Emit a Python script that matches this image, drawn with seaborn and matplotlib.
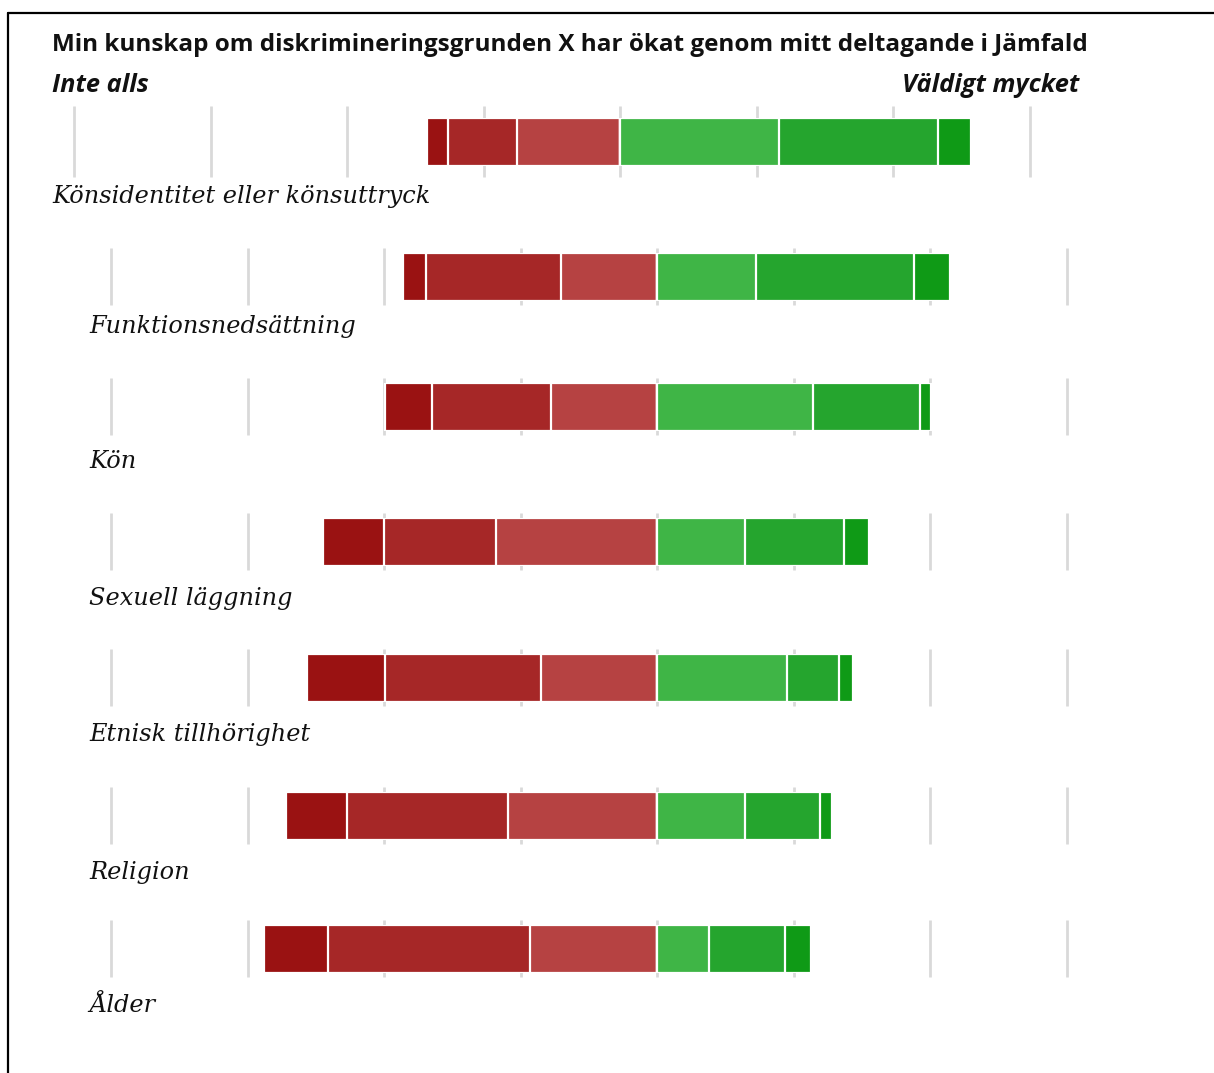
import matplotlib
matplotlib.use("Agg")
import matplotlib.pyplot as plt
import seaborn as sns
import pandas as pd
from matplotlib.lines import Line2D

sns.set_theme(style="white")
plt.rcParams['font.family'] = ['DejaVu Sans']

# ---------------- data (percent of answers per level) ----------------
categories = ["Könsidentitet eller könsuttryck", "Funktionsnedsättning", "Kön",
              "Sexuell läggning", "Etnisk tillhörighet", "Religion", "Ålder"]
# levels 1..6 ("Inte alls" -> "Väldigt mycket")
level1 = [3.8, 4.2, 8.6, 11.2, 14.2, 11.3, 11.6]
level2 = [12.7, 24.7, 21.7, 20.6, 28.6, 29.4, 37.1]
level3 = [18.8, 17.6, 19.5, 29.4, 21.3, 27.3, 23.2]
level4 = [29.2, 18.1, 28.6, 16.2, 23.9, 16.2, 9.6]
level5 = [29.1, 29.0, 19.5, 18.0, 9.5, 13.6, 13.9]
level6 = [6.0, 6.5, 2.1, 4.6, 2.5, 2.2, 4.7]
grid_ticks = [-100, -75, -50, -25, 0, 25, 50, 75]

title = "Min kunskap om diskrimineringsgrunden X har ökat genom mitt deltagande i Jämfald"
left_label = "Inte alls"
right_label = "Väldigt mycket"

reds = ["#9a1212", "#a62727", "#b64242"]
greens = ["#3fb546", "#25a52e", "#0f9a16"]

# ---------------- layout (pixels) ----------------
W, H = 1214, 1073
fig = plt.figure(figsize=(W / 100, H / 100), dpi=100)
px_per_pct = 5.46
centers = [620, 657, 657, 657, 657, 657, 657]
bar_tops = [118, 253, 383, 518, 654, 792, 925]
bar_h = 48
grid_ext = [(12, 11), (5, 4), (5, 4), (5, 4), (5, 4), (5, 4), (5, 4)]
label_x = [52, 89, 89, 89, 89, 89, 89]
label_y = [197, 327, 462, 598, 735, 873, 1005]

def fx(p):
    return p / W

def fy(p):
    return 1 - p / H

for i, cat in enumerate(categories):
    top = bar_tops[i]
    ax = fig.add_axes([0, fy(top + bar_h), 1, bar_h / H])
    c = centers[i]
    ax.set_xlim((0 - c) / px_per_pct, (W - c) / px_per_pct)

    l1, l2, l3 = level1[i], level2[i], level3[i]
    r1, r2, r3 = level4[i], level5[i], level6[i]
    names = ["L_out", "L_mid", "L_in", "R_out", "R_mid", "R_in"]
    vals = [-(l1 + l2 + l3), -(l2 + l3), -l3, r1 + r2 + r3, r1 + r2, r1]
    cols = [reds[0], reds[1], reds[2], greens[2], greens[1], greens[0]]
    df = pd.DataFrame({"row": [cat] * 6, "value": vals, "seg": names})
    sns.barplot(data=df, x="value", y="row", hue="seg", hue_order=names,
                palette=dict(zip(names, cols)), dodge=False, width=1.0,
                orient="h", legend=False, edgecolor="white", linewidth=1.6,
                saturation=1, ax=ax, zorder=3)
    ax.set_ylim(0.5, -0.5)
    up, dn = grid_ext[i]
    ax.vlines(grid_ticks, -dn / bar_h, 1 + up / bar_h,
              transform=ax.get_xaxis_transform(), colors="#d9d9d9",
              linewidth=2, clip_on=False, zorder=0)
    ax.set_axis_off()

    fig.text(fx(label_x[i]), fy(label_y[i]), cat, ha="left", va="center",
             fontsize=17.3, fontstyle="italic", family="DejaVu Serif",
             color="#111111")

fig.text(fx(52), fy(45), title, ha="left", va="center", fontsize=17.5,
         fontweight="bold", family="Open Sans", color="#111111")
fig.text(fx(52), fy(86), left_label, ha="left", va="center", fontsize=18.3,
         fontweight="bold", fontstyle="italic", family="Open Sans", color="#111111")
fig.text(fx(1079), fy(86), right_label, ha="right", va="center", fontsize=18.3,
         fontweight="bold", fontstyle="italic", family="Open Sans", color="#111111")

# frame lines (top and left)
fig.add_artist(Line2D([fx(8), 1], [fy(13), fy(13)], color="black", linewidth=1.6,
                      transform=fig.transFigure))
fig.add_artist(Line2D([fx(8), fx(8)], [fy(13), 0], color="black", linewidth=1.6,
                      transform=fig.transFigure))

fig.savefig("out.png", dpi=100, facecolor="white")
